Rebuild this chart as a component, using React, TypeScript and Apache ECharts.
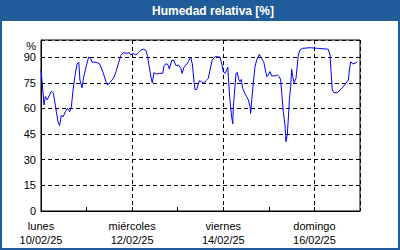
import React, { useEffect, useRef } from "react";
import * as echarts from "echarts";

// hours since lunes 10/02/25 00:00
const hours = [
  0, 1.6, 2.3, 3.3, 5.4, 6.5, 8.1, 9.0, 9.8, 10.7, 11.6, 12.8, 13.9, 15.1, 16.0, 16.9, 18.1, 19.0, 19.9, 20.5,
  21.6, 22.5, 23.9, 25.1, 26.2, 26.9, 29.1, 30.9, 32.7, 34.4, 35.0, 36.3, 38.1, 39.5, 40.7, 42.0, 43.3, 45.1,
  46.5, 47.2, 48.6, 50.0, 51.2, 52.5, 53.9, 55.3, 56.0, 57.0, 57.9, 58.6, 59.5, 60.6, 62.3, 64.1, 64.8, 65.8,
  66.5, 67.0, 67.6, 68.8, 70.0, 71.1, 72.3, 73.6, 74.3, 75.3, 76.4, 77.6, 78.8, 79.7, 80.6, 81.1, 82.0, 83.4,
  84.6, 85.9, 86.9, 88.1, 89.0, 90.2, 91.6, 92.9, 94.3, 95.2, 96.0, 96.9, 97.8, 98.4, 98.8, 99.5, 100.4, 101.0,
  101.3, 101.8, 102.7, 103.4, 104.1, 104.8, 105.5, 106.2, 107.4, 108.3, 109.2, 110.1, 110.4, 111.0, 111.8,
  112.7, 113.6, 115.0, 116.2, 117.4, 118.9, 119.7, 120.6, 121.5, 123.2, 124.5, 125.5, 126.2, 126.8, 127.6,
  128.5, 129.0, 129.7, 130.3, 130.8, 131.5, 132.0, 132.6, 133.3, 134.3, 135.0, 135.5, 136.4, 137.8, 141.7,
  146.1, 151.3, 152.2, 152.7, 153.4, 154.3, 156.1, 157.5, 159.2, 160.6, 161.9, 162.4, 163.1, 164.2, 165.4, 166.6,
];
const humidity = [
  83, 62, 67, 65, 70, 69, 58, 52, 50, 56, 55, 58, 60, 58, 61, 71, 80.5, 86, 87, 76.6,
  72, 78.5, 85, 90, 89, 87, 87, 86, 81, 75, 73.7, 75, 77.6, 81.5, 86, 91, 92.6, 92.2,
  92.6, 91.2, 92.2, 91.2, 92.6, 94, 94.7, 94, 91, 84.4, 78.5, 75, 81, 80, 80.5, 80.5, 85, 86,
  86, 85, 83, 88, 88, 85, 85.4, 83.5, 80.5, 84, 85.4, 87.3, 90, 86, 75.6, 71, 71, 76.2,
  75.6, 74.7, 76.2, 77.6, 82.5, 88.3, 90.2, 90.2, 90, 86, 81.5, 80.5, 82.5, 84, 76, 65, 55, 51,
  61, 67.8, 80.5, 81, 77, 75.6, 77, 71.7, 68.8, 66.8, 65, 61, 57, 65, 74.7,
  84.4, 88.3, 91.6, 89.3, 86.7, 78.5, 79.5, 81.5, 79, 79, 79.5, 78.5, 76.6, 68.8, 58,
  50.3, 40.5, 44.4, 55, 65, 72.7, 82.9, 78.5, 75, 77.6, 85.4, 91.2, 94.2, 95.1, 95.5,
  95.1, 94.6, 91.2, 82.5, 70.8, 69.2, 69.2, 70.8, 72.7, 74.7, 76.6, 82.5, 87.3, 86, 86.4, 87.3,
];

const dayNames = ["lunes", "miércoles", "viernes", "domingo"];
const dayDates = ["10/02/25", "12/02/25", "14/02/25", "16/02/25"];
const titleText = "Humedad relativa [%]";
const unitText = "%";

const FONT = "Liberation Sans, Arial, sans-serif";
const FRAME = "#1f5c99";

export default function App() {
  const ref = useRef<HTMLDivElement>(null);
  useEffect(() => {
    document.body.style.margin = "0";
    const chart = echarts.init(ref.current!, null, { renderer: "svg" });
    const data = hours.map((h, i) => [h, humidity[i]]);
    chart.setOption({
      animation: false,
      backgroundColor: "#ffffff",
      grid: {
        left: 41,
        top: 40,
        right: 40,
        bottom: 39,
        show: true,
        borderColor: "#000",
        borderWidth: 1,
        backgroundColor: "#fff",
      },
      xAxis: [
        {
          type: "value",
          min: 0,
          max: 168,
          interval: 24,
          axisLine: { show: true, lineStyle: { color: "#000", width: 1 } },
          axisTick: { show: true, inside: true, length: 4, lineStyle: { color: "#000" } },
          splitLine: { show: false },
          axisLabel: {
            color: "#000",
            fontFamily: FONT,
            fontSize: 11,
            lineHeight: 14,
            margin: 8,
            showMaxLabel: false,
            formatter: (v: number) => {
              if (v % 48 !== 0) return "";
              const i = v / 48;
              if (i >= dayNames.length) return "";
              return dayNames[i] + "\n" + dayDates[i];
            },
          },
        },
        {
          type: "value",
          min: 0,
          max: 168,
          interval: 48,
          position: "bottom",
          axisLine: { show: false },
          axisTick: { show: false },
          axisLabel: { show: false },
          splitLine: { show: true, lineStyle: { color: "#000", type: [4, 3], width: 1 } },
        },
      ],
      yAxis: {
        type: "value",
        min: 0,
        max: 100,
        interval: 15,
        axisLine: { show: true, lineStyle: { color: "#000" } },
        axisTick: { show: false },
        splitLine: { show: true, lineStyle: { color: "#000", type: [4, 3], width: 1 } },
        axisLabel: {
          color: "#000",
          fontFamily: FONT,
          fontSize: 11,
          margin: 5,
          padding: [4, 0, 0, 0],
          formatter: (v: number) => (v === 100 ? "" : String(v)),
        },
      },
      series: [
        {
          type: "line",
          xAxisIndex: 0,
          data,
          showSymbol: false,
          symbol: "none",
          lineStyle: { color: "#0000ff", width: 1 },
          z: 5,
        },
      ],
      graphic: [
        { type: "rect", shape: { x: 0, y: 0, width: 400, height: 21 }, style: { fill: FRAME }, z: 10 },
        {
          type: "rect",
          shape: { x: 1, y: 1, width: 398, height: 248 },
          style: { fill: "none", stroke: FRAME, lineWidth: 2 },
          z: 10,
        },
        {
          type: "text",
          x: 213,
          y: 11,
          style: {
            text: titleText,
            fill: "#fff",
            font: "bold 12px " + FONT,
            align: "center",
            verticalAlign: "middle",
          },
          z: 11,
        },
        {
          type: "text",
          x: 36,
          y: 46,
          style: {
            text: unitText,
            fill: "#000",
            font: "11px " + FONT,
            align: "right",
            verticalAlign: "middle",
          },
          z: 11,
        },
      ],
    });
    return () => chart.dispose();
  }, []);
  return <div ref={ref} style={{ width: 400, height: 250 }} />;
}
